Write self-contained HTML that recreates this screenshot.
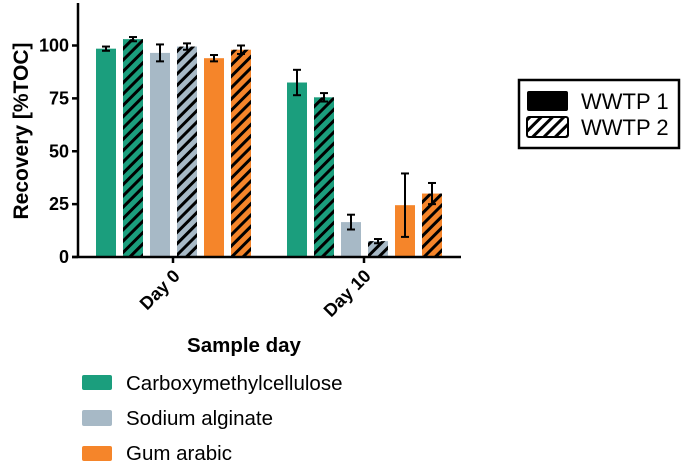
<!DOCTYPE html>
<html><head><meta charset="utf-8"><style>
body{margin:0;background:#fff;}
svg{display:block;font-family:"Liberation Sans",Arial,sans-serif;}
</style></head><body>
<svg id="chart" width="685" height="464">
<defs>
<pattern id="hatch" patternUnits="userSpaceOnUse" width="8" height="8" patternTransform="rotate(45)">
<rect width="8" height="8" fill="none"/><rect x="0" y="0" width="3" height="8" fill="#000"/>
</pattern>
</defs>
<g id="bars"></g>
<g id="axes"></g>
</svg>
<script>
const categories = ["Day 0", "Day 10"];
const polymers = ["Carboxymethylcellulose", "Sodium alginate", "Gum arabic"];
const colors = ["#1b9e7d", "#a7b9c6", "#f5852a"];
const wwtp1 = [[98.5, 96.5, 94], [82.5, 16.5, 24.5]];
const wwtp1Err = [[1, 4, 1.5], [6, 3.5, 15]];
const wwtp2 = [[103, 99.5, 98], [75.5, 7.5, 30]];
const wwtp2Err = [[1, 1.5, 2], [2, 1, 5]];
const yTicks = [0, 25, 50, 75, 100];

const NS = "http://www.w3.org/2000/svg";
const y0 = 257, pxPerUnit = 2.115;
const yScale = v => y0 - v * pxPerUnit;
const groupCenter = i => 173 + i * 191;
const barW = 20, step = 27;
function el(tag, attrs, parent) {
  const e = document.createElementNS(NS, tag);
  for (const k in attrs) e.setAttribute(k, attrs[k]);
  parent.appendChild(e);
  return e;
}
const bars = document.getElementById("bars");
const axes = document.getElementById("axes");

categories.forEach((c, gi) => {
  polymers.forEach((p, pi) => {
    [[wwtp1, wwtp1Err, false], [wwtp2, wwtp2Err, true]].forEach(([vals, errs, hatched], wi) => {
      const idx = pi * 2 + wi;
      const x = groupCenter(gi) - 3 * step + idx * step + (step - barW) / 2 + 0.5;
      const v = vals[gi][pi], e = errs[gi][pi];
      const r = el("rect", {x: x, y: yScale(v), width: barW, height: y0 - yScale(v), fill: colors[pi]}, bars);
      
      
      if (hatched) {
        const h = el("rect", {x: x, y: yScale(v), width: barW, height: y0 - yScale(v), fill: "url(#hatch)"}, bars);
        
        
      }
      const cx = x + barW / 2;
      const g = el("g", {stroke: "#000", "stroke-width": 2}, bars);
      
      
      el("line", {x1: cx, x2: cx, y1: yScale(v + e), y2: yScale(v - e)}, g);
      el("line", {x1: cx - 4, x2: cx + 4, y1: yScale(v + e), y2: yScale(v + e)}, g);
      el("line", {x1: cx - 4, x2: cx + 4, y1: yScale(v - e), y2: yScale(v - e)}, g);
    });
  });
});

let a = el("line", {x1: 78, x2: 78, y1: 3, y2: y0 + 1, stroke: "#000", "stroke-width": 2.5}, axes);


a = el("line", {x1: 72, x2: 461, y1: y0, y2: y0, stroke: "#000", "stroke-width": 2.5}, axes);


yTicks.forEach(t => {
  el("line", {x1: 72, x2: 78, y1: yScale(t), y2: yScale(t), stroke: "#000", "stroke-width": 2.5}, axes);
  const tx = el("text", {x: 69, y: yScale(t) + 6, "text-anchor": "end", "font-size": 18, "font-weight": "bold"}, axes);
  tx.textContent = t;
  
  
});
categories.forEach((c, i) => {
  const x = groupCenter(i);
  el("line", {x1: x, x2: x, y1: y0, y2: y0 + 6, stroke: "#000", "stroke-width": 2.5}, axes);
  const tx = el("text", {x: x + 8, y: y0 + 20, "text-anchor": "end", "font-size": 18, "font-weight": "bold", transform: `rotate(-45 ${x+8} ${y0+20})`}, axes);
  tx.textContent = c;
  
  
});
</script>
<div style="position:absolute;left:0;top:0;width:685px;height:464px;pointer-events:none">
<svg width="685" height="464" style="font-family:'Liberation Sans',Arial,sans-serif">
<text x="28" y="131" transform="rotate(-90 28 131)" text-anchor="middle" font-size="21" font-weight="bold">Recovery [%TOC]</text>
<text x="244" y="352" text-anchor="middle" font-size="20.5" font-weight="bold">Sample day</text>
<g>
<rect x="519" y="80" width="160" height="68" fill="#fff" stroke="#000" stroke-width="2.5"/>
<rect x="527" y="91" width="41" height="20" rx="2" fill="#000"/>
<rect x="527" y="117" width="41" height="20" rx="2" fill="#fff" stroke="#000" stroke-width="2"/>
<rect x="527" y="117" width="41" height="20" fill="url(#hatch)"/>
<text x="581" y="109" font-size="22">WWTP 1</text>
<text x="581" y="135" font-size="22">WWTP 2</text>
</g>
<g>
<rect x="82" y="375" width="30" height="15" rx="2" fill="#1b9e7d"/>
<rect x="82" y="410" width="30" height="16" rx="2" fill="#a7b9c6"/>
<rect x="82" y="446" width="30" height="15" rx="2" fill="#f5852a"/>
<text x="126" y="390" font-size="20.5">Carboxymethylcellulose</text>
<text x="126" y="425" font-size="20.5">Sodium alginate</text>
<text x="126" y="460" font-size="20.5">Gum arabic</text>
</g>
</svg>
</div>
</body></html>
